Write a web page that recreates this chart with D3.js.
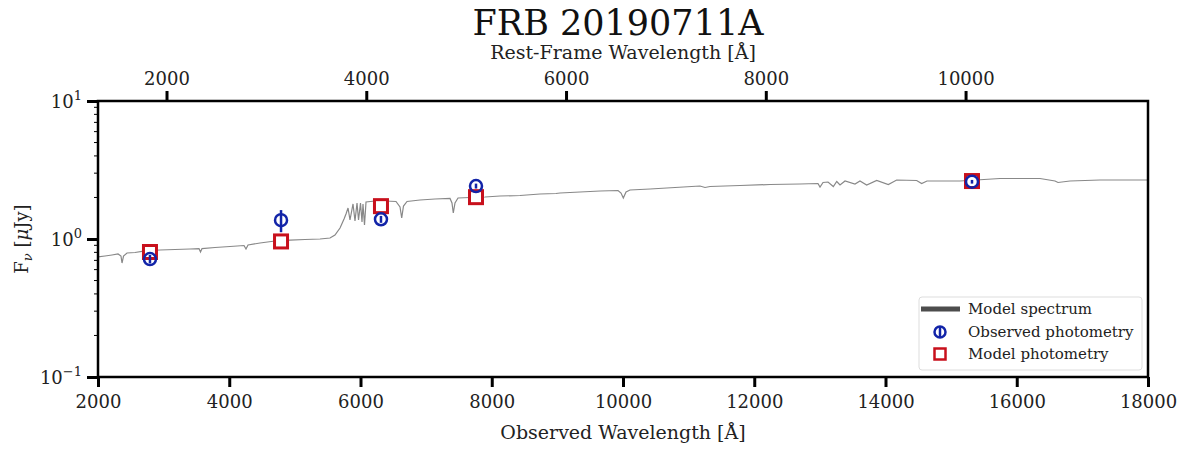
<!DOCTYPE html>
<html>
<head>
<meta charset="utf-8">
<script src="https://cdn.jsdelivr.net/npm/d3@7"></script>
<style>
    body { margin: 0; background: #fff; }
    svg { display: block; font-family: "DejaVu Serif", serif; }
</style>
</head>
<body>
<svg width="1185" height="449"></svg>
<script>
// --- DATA ---
const redshift = 0.522;

// model spectrum, observed wavelength (Å) and flux (μJy)
const specWave = [2000, 2107, 2213, 2305, 2350, 2366, 2389, 2442, 2564, 2716, 2945, 3173, 3402, 3539, 3562, 3585,
    3783, 4011, 4225, 4255, 4286, 4469, 4697, 4926, 5154, 5383, 5535, 5611, 5688, 5749, 5779, 5810, 5840,
    5886, 5916, 5947, 5970, 6000, 6023, 6038, 6061, 6084, 6221, 6373, 6541, 6602, 6628, 6655, 6709, 6907,
    7135, 7364, 7394, 7414, 7440, 7486, 7669, 7897, 8126, 8430, 8735, 8979, 9040, 9345, 9650, 9924, 9970,
    10005, 10046, 10107, 10412, 10793, 11173, 11250, 11326, 11783, 12240, 12697, 12971, 13002, 13048, 13124,
    13205, 13257, 13307, 13383, 13535, 13611, 13713, 13866, 14043, 14170, 14475, 14551, 14632, 15135, 15745,
    16354, 16583, 16629, 16811, 17268, 18000];
const specFlux = [0.741, 0.753, 0.766, 0.779, 0.753, 0.670, 0.753, 0.792, 0.798, 0.819, 0.832, 0.839, 0.846, 0.853, 0.805, 0.853,
    0.868, 0.882, 0.897, 0.846, 0.905, 0.935, 0.967, 0.983, 0.992, 1.000, 1.017, 1.069, 1.201, 1.396, 1.518, 1.678, 1.373,
    1.794, 1.350, 1.824, 1.373, 1.824, 1.328, 1.794, 1.263, 1.854, 1.886, 1.886, 1.870, 1.706, 1.420, 1.734, 1.870, 1.917,
    1.950, 1.966, 1.824, 1.543, 1.824, 1.982, 1.998, 2.015, 2.049, 2.066, 2.119, 2.137, 2.154, 2.190, 2.227, 2.246, 2.154,
    1.982, 2.190, 2.265, 2.303, 2.362, 2.421, 2.362, 2.401, 2.441, 2.482, 2.503, 2.524, 2.381, 2.567, 2.588,
    2.401, 2.610, 2.462, 2.632, 2.503, 2.632, 2.462, 2.654, 2.482, 2.677, 2.654, 2.524, 2.632, 2.632, 2.744,
    2.744, 2.632, 2.567, 2.632, 2.677, 2.677];

// photometry
const photWave = [2792, 4789, 6312, 7760, 15318];
const obsFlux = [0.716, 1.37, 1.39, 2.42, 2.60];
const obsErr = [0.05, 0.25, 0.08, 0.10, 0.08];
const modelFlux = [0.805, 0.96, 1.73, 2.01, 2.63];

const obsTicks = [2000, 4000, 6000, 8000, 10000, 12000, 14000, 16000, 18000];
const restTicks = [2000, 4000, 6000, 8000, 10000];
const yTicks = [0.1, 1, 10];
const yTickExp = ['\u22121', '0', '1'];

const legendLabels = ['Model spectrum', 'Observed photometry', 'Model photometry'];

// --- SETUP ---
const svg = d3.select('svg');
const margin = { left: 98, right: 1148, top: 101, bottom: 377 };

const blue = '#1224a8';
const red = '#c8101c';
const textColor = '#222';

const x = d3.scaleLinear().domain([2000, 18000]).range([margin.left, margin.right]);
const xRest = d3.scaleLinear()
    .domain([2000 / (1 + redshift), 18000 / (1 + redshift)])
    .range([margin.left, margin.right]);
const y = d3.scaleLog().domain([0.1, 10]).range([margin.bottom, margin.top]);

// --- SPECTRUM ---
const spec = specWave.map((w, i) => ({ w, f: specFlux[i] }));
svg.append('path')
    .datum(spec)
    .attr('fill', 'none')
    .attr('stroke', '#888')
    .attr('stroke-width', 1.2)
    .attr('d', d3.line().x(d => x(d.w)).y(d => y(d.f)));

// --- PHOTOMETRY ---
const phot = photWave.map((w, i) => ({ w, obs: obsFlux[i], err: obsErr[i], model: modelFlux[i] }));
const sq = 13;

svg.append('g').selectAll('rect')
    .data(phot)
    .enter().append('rect')
    .attr('x', d => x(d.w) - sq / 2)
    .attr('y', d => y(d.model) - sq / 2)
    .attr('width', sq)
    .attr('height', sq)
    .attr('fill', '#fff')
    .attr('stroke', red)
    .attr('stroke-width', 3);

const obs = svg.append('g').selectAll('g')
    .data(phot)
    .enter().append('g');
obs.append('line')
    .attr('x1', d => x(d.w))
    .attr('x2', d => x(d.w))
    .attr('y1', d => y(d.obs + d.err))
    .attr('y2', d => y(d.obs - d.err))
    .attr('stroke', blue)
    .attr('stroke-width', 2.5);
obs.append('circle')
    .attr('cx', d => x(d.w))
    .attr('cy', d => y(d.obs))
    .attr('r', 6)
    .attr('fill', 'none')
    .attr('stroke', blue)
    .attr('stroke-width', 2.5);

// --- AXES ---
const bottomAxis = svg.append('g')
    .attr('transform', `translate(0,${margin.bottom})`)
    .call(d3.axisBottom(x).tickValues(obsTicks).tickFormat(d3.format('d')).tickSize(10).tickPadding(8));

const topAxis = svg.append('g')
    .attr('transform', `translate(0,${margin.top})`)
    .call(d3.axisTop(xRest).tickValues(restTicks).tickFormat(d3.format('d')).tickSize(10).tickPadding(6));

const leftAxis = svg.append('g')
    .attr('transform', `translate(${margin.left},0)`)
    .call(d3.axisLeft(y).tickValues(yTicks).tickFormat('').tickSize(11));

// minor ticks on the log axis
const minor = [];
[0.1, 1].forEach(base => { for (let k = 2; k <= 9; k++) minor.push(base * k); });
svg.append('g').selectAll('line')
    .data(minor)
    .enter().append('line')
    .attr('x1', margin.left - 4)
    .attr('x2', margin.left)
    .attr('y1', d => y(d))
    .attr('y2', d => y(d))
    .attr('stroke', '#000')
    .attr('stroke-width', 1);

[bottomAxis, topAxis, leftAxis].forEach(g => {
    g.select('.domain').remove();
    g.selectAll('.tick line').attr('stroke-width', 3);
    g.selectAll('.tick text').attr('font-size', 18).attr('font-family', '"DejaVu Serif", serif').attr('fill', textColor);
});

// y tick labels as powers of ten
yTicks.forEach((t, i) => {
    const lab = svg.append('text')
        .attr('x', margin.left - 16)
        .attr('y', y(t) + 7)
        .attr('text-anchor', 'end')
        .attr('font-size', 18)
        .attr('fill', textColor);
    lab.append('tspan').text('10');
    lab.append('tspan').attr('dy', -8).attr('font-size', 13).text(yTickExp[i]);
});

// frame
svg.append('rect')
    .attr('x', margin.left)
    .attr('y', margin.top)
    .attr('width', margin.right - margin.left)
    .attr('height', margin.bottom - margin.top)
    .attr('fill', 'none')
    .attr('stroke', '#000')
    .attr('stroke-width', 2.5);

// --- LABELS ---
const cx = (margin.left + margin.right) / 2;
svg.append('text')
    .attr('x', cx - 5).attr('y', 35)
    .attr('text-anchor', 'middle')
    .attr('font-size', 35)
    .attr('fill', '#111')
    .text('FRB 20190711A');

svg.append('text')
    .attr('x', cx).attr('y', 59)
    .attr('text-anchor', 'middle')
    .attr('font-size', 19)
    .attr('fill', textColor)
    .text('Rest-Frame Wavelength [\u00C5]');

svg.append('text')
    .attr('x', cx).attr('y', 439)
    .attr('text-anchor', 'middle')
    .attr('font-size', 19)
    .attr('fill', textColor)
    .text('Observed Wavelength [\u00C5]');

const yl = svg.append('text')
    .attr('transform', `translate(28,${(margin.top + margin.bottom) / 2}) rotate(-90)`)
    .attr('text-anchor', 'middle')
    .attr('font-size', 18)
    .attr('fill', textColor);
yl.append('tspan').text('F');
yl.append('tspan').attr('dy', 4).attr('font-size', 13).attr('font-style', 'italic').text('\u03BD');
yl.append('tspan').attr('dy', -4).text(' [');
yl.append('tspan').attr('font-style', 'italic').text('\u03BC');
yl.append('tspan').text('Jy]');

// --- LEGEND ---
const legend = svg.append('g').attr('transform', 'translate(919,297)');
legend.append('rect')
    .attr('width', 223).attr('height', 73)
    .attr('rx', 3)
    .attr('fill', '#fff')
    .attr('stroke', '#ddd');

const rowY = [12, 35, 57];
legend.append('line')
    .attr('x1', 2).attr('x2', 41)
    .attr('y1', rowY[0]).attr('y2', rowY[0])
    .attr('stroke', '#4d4d4d').attr('stroke-width', 5);
legend.append('line')
    .attr('x1', 21).attr('x2', 21)
    .attr('y1', rowY[1] - 6).attr('y2', rowY[1] + 6)
    .attr('stroke', blue).attr('stroke-width', 2.5);
legend.append('circle')
    .attr('cx', 21).attr('cy', rowY[1]).attr('r', 5.5)
    .attr('fill', 'none').attr('stroke', blue).attr('stroke-width', 2.5);
legend.append('rect')
    .attr('x', 21 - 5.5).attr('y', rowY[2] - 5.5)
    .attr('width', 11).attr('height', 11)
    .attr('fill', '#fff').attr('stroke', red).attr('stroke-width', 2.5);

legend.selectAll('text.lab')
    .data(legendLabels)
    .enter().append('text')
    .attr('class', 'lab')
    .attr('x', 49)
    .attr('y', (d, i) => rowY[i] + 5)
    .attr('font-size', 15)
    .attr('fill', textColor)
    .text(d => d);
</script>
</body>
</html>
